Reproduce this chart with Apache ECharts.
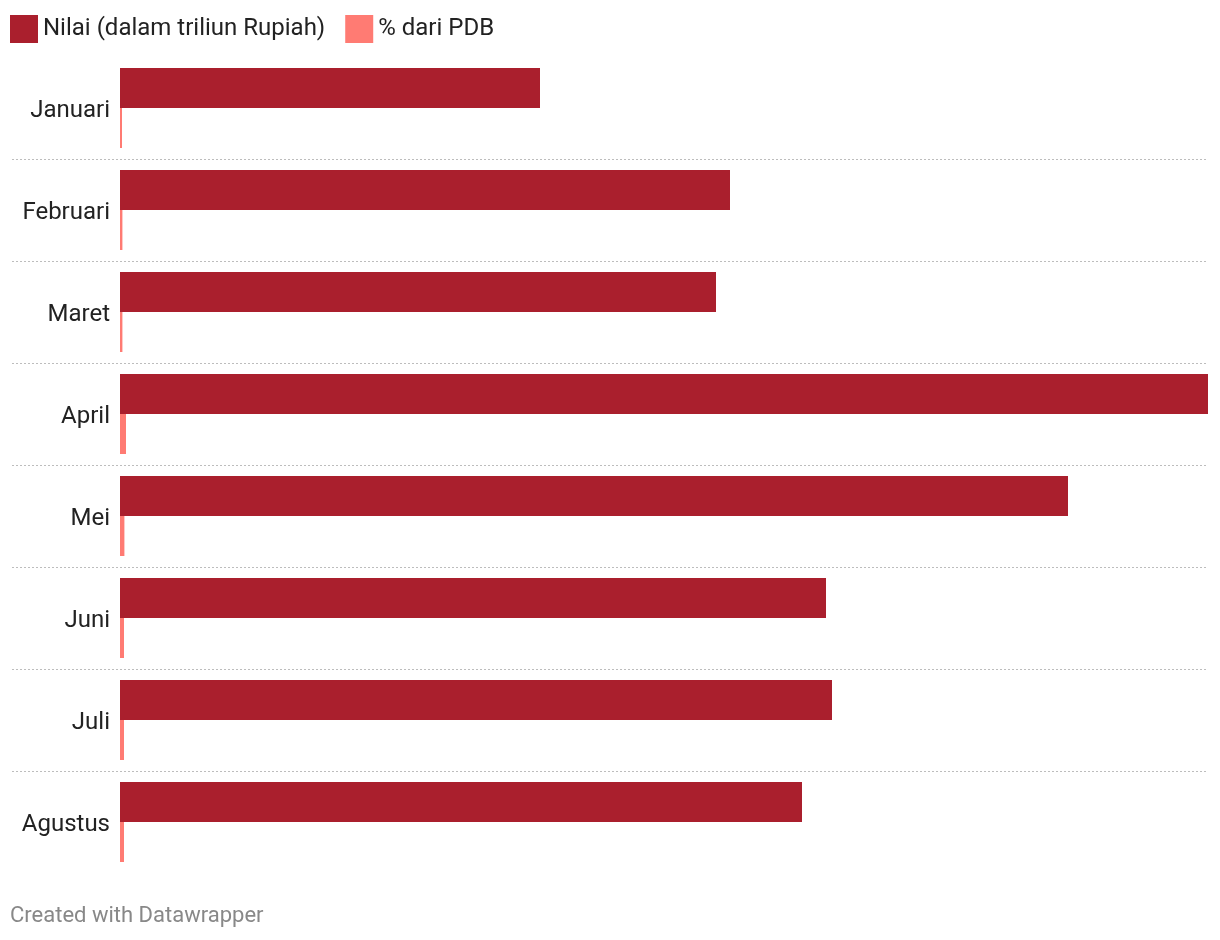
<!DOCTYPE html>
<html>
<head>
<meta charset="utf-8">
<script src="https://cdn.jsdelivr.net/npm/echarts@6/dist/echarts.min.js"></script>
<style>
html,body{margin:0;padding:0;background:#fff;}
#chart{width:1220px;height:940px;}
</style>
</head>
<body>
<div id="chart"></div>
<script>
const months = ['Januari','Februari','Maret','April','Mei','Juni','Juli','Agustus'];
const nilai = [105, 152.5, 149, 272, 237, 176.5, 178, 170.5];
const persenPDB = [0.5, 0.6, 0.6, 1.5, 1.1, 1.0, 1.0, 1.0];
const seriesNames = ['Nilai (dalam triliun Rupiah)', '% dari PDB'];
const colors = ['#aa1f2d', '#ff7b73'];

const chart = echarts.init(document.getElementById('chart'), null, {renderer: 'canvas'});
chart.setOption({
  animation: false,
  textStyle: {fontFamily: 'Roboto'},
  title: {
    text: 'Created with Datawrapper',
    left: 5, top: 900,
    textStyle: {color: '#888', fontSize: 22, fontWeight: 'normal', fontFamily: 'Roboto'}
  },
  legend: {
    left: 5, top: 10,
    itemWidth: 28, itemHeight: 28, itemGap: 20,
    icon: 'rect',
    textStyle: {fontSize: 24, color: '#222', fontFamily: 'Roboto'},
    data: seriesNames
  },
  grid: [
    {left: 120, right: 12, top: 57, bottom: 67, containLabel: false, outerBoundsMode: 'none'},
    {left: 12, right: 12, top: 57, bottom: 67, containLabel: false, outerBoundsMode: 'none'}
  ],
  xAxis: [
    {gridIndex: 0, type: 'value', min: 0, max: 272,
      axisLine: {show: false}, axisTick: {show: false}, axisLabel: {show: false},
      splitLine: {show: false}},
    {gridIndex: 1, type: 'value', min: 0, max: 1, show: false}
  ],
  yAxis: [
    {gridIndex: 0, type: 'category', data: months, inverse: true,
      axisLine: {show: false}, axisTick: {show: false},
      axisLabel: {margin: 10, formatter: '{m|{value}}',
        rich: {m: {fontSize: 24, color: '#222', fontFamily: 'Roboto', padding: [6, 0, 0, 0]}}},
      splitLine: {show: false}},
    {gridIndex: 1, type: 'category', data: months, inverse: true,
      axisLine: {show: false}, axisTick: {show: false}, axisLabel: {show: false},
      splitLine: {show: true, showMinLine: false, showMaxLine: false,
        lineStyle: {color: '#bdbdbd', width: 1, type: [2, 2]}}}
  ],
  series: [
    {name: seriesNames[0], type: 'bar', xAxisIndex: 0, yAxisIndex: 0, data: nilai,
      barWidth: 40, barGap: '0%', itemStyle: {color: colors[0]}, z: 3},
    {name: seriesNames[1], type: 'bar', xAxisIndex: 0, yAxisIndex: 0, data: persenPDB,
      barWidth: 40, barGap: '0%', itemStyle: {color: colors[1]}, z: 3}
  ]
});
</script>
</body>
</html>
